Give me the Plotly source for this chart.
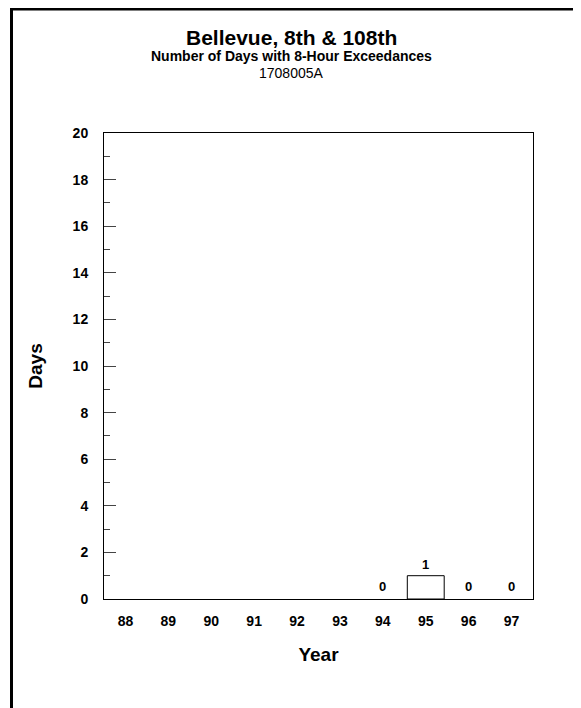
import plotly.graph_objects as go

years = ["88", "89", "90", "91", "92", "93", "94", "95", "96", "97"]
days = [None, None, None, None, None, None, 0, 1, 0, 0]
labels = ["", "", "", "", "", "", "0", "1", "0", "0"]

# page has an 8px body margin; figure sized to fit the 581x708 window
W, H = 573, 700
L, R, T, B = 96, 48, 125, 109
pw, ph = W - L - R, H - T - B
FONT = "Liberation Sans, Arial, sans-serif"

fig = go.Figure()
fig.add_trace(go.Bar(
    x=years, y=days, width=0.86,
    marker=dict(color="white",
                line=dict(color="black", width=[1 if d else 0 for d in days])),
    hoverinfo="skip", showlegend=False,
))

def px(x):
    return (x - L) / pw

def py(y):
    return 1 - (y - T) / ph

# value labels: placed on the category axis by category index
value_notes = [
    dict(x=i, y=d, xref="x", yref="y", text="<b>%s</b>" % lb, showarrow=False,
         xanchor="center", yanchor="bottom", yshift=2 if d else 3,
         font=dict(family=FONT, size=13, color="black"))
    for i, (d, lb) in enumerate(zip(days, labels)) if lb
]

fig.update_layout(
    width=W, height=H,
    margin=dict(l=L, r=R, t=T, b=B),
    paper_bgcolor="white", plot_bgcolor="white",
    font=dict(family=FONT, color="black"),
    xaxis=dict(
        type="category", categoryorder="array", categoryarray=years,
        range=[-0.5, 9.5], automargin=False,
        showline=True, linecolor="black", linewidth=1, mirror=True,
        ticks="", showgrid=False, zeroline=False,
        tickfont=dict(family=FONT, size=14, color="black", weight="bold"),
        ticklabelstandoff=9,
        title=dict(text="<b>Year</b>", font=dict(family=FONT, size=19), standoff=19),
        fixedrange=True,
    ),
    yaxis=dict(
        range=[0, 20], tickvals=list(range(0, 21, 2)), automargin=False,
        showline=True, linecolor="black", linewidth=1, mirror=True,
        ticks="inside", ticklen=12, tickcolor="#444", tickwidth=1,
        minor=dict(ticks="inside", ticklen=6, tickcolor="#444", dtick=1, tick0=0, showgrid=False),
        showgrid=False, zeroline=False,
        tickfont=dict(family=FONT, size=14, color="black", weight="bold"),
        ticklabelstandoff=12,
        title=dict(text="<b>Days</b>", font=dict(family=FONT, size=19), standoff=24),
        fixedrange=True,
    ),
    shapes=[dict(
        type="rect", xref="paper", yref="paper",
        x0=px(3.5), x1=px(W + 20), y0=py(H + 20), y1=py(1),
        line=dict(color="black", width=3), fillcolor="rgba(0,0,0,0)", layer="above",
    )],
    annotations=[
        dict(text="<b>Bellevue, 8th & 108th</b>", xref="paper", yref="paper",
             x=px(283), y=py(29), showarrow=False, font=dict(family=FONT, size=21),
             xanchor="center", yanchor="middle"),
        dict(text="<b>Number of Days with 8-Hour Exceedances</b>", xref="paper", yref="paper",
             x=px(283), y=py(48), showarrow=False, font=dict(family=FONT, size=14),
             xanchor="center", yanchor="middle"),
        dict(text="1708005A", xref="paper", yref="paper",
             x=px(283), y=py(65), showarrow=False, font=dict(family=FONT, size=14),
             xanchor="center", yanchor="middle"),
    ] + value_notes,
)

fig.write_html("out.html", config={"displayModeBar": False})
